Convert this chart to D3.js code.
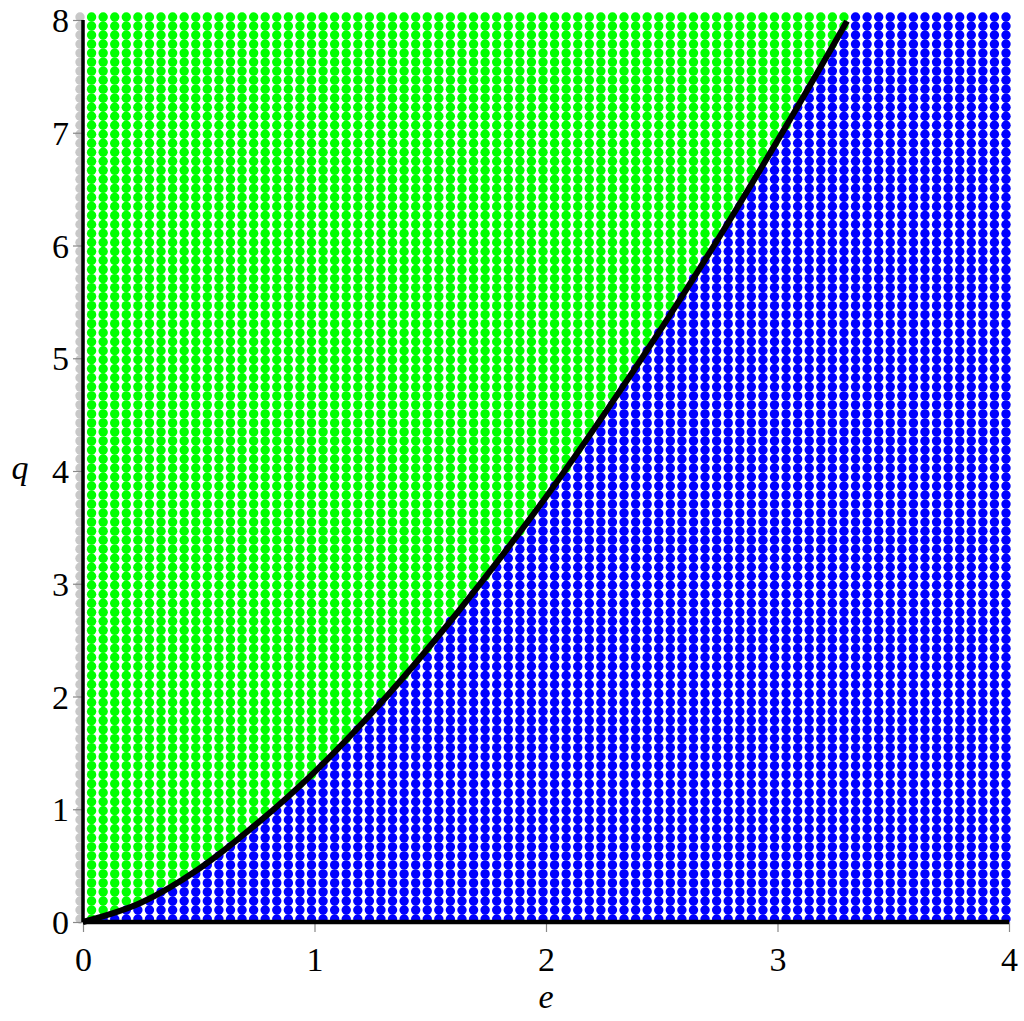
<!DOCTYPE html>
<html lang="en">
<head>
  <meta charset="utf-8" />
  <script src="https://d3js.org/d3.v7.min.js"></script>
  <style>
    body { margin: 0; background: #fff; }
  </style>
</head>
<body>
  <div id="divId"></div>
  <script>
    'use strict';
    const width = 1024;
    const height = 1021;
    const fontFamily = "'Liberation Serif', 'Times New Roman', serif";

    // axis ticks
    const eTicks = [0, 1, 2, 3, 4];
    const qTicks = [0, 1, 2, 3, 4, 5, 6, 7, 8];

    // sample grid (columns in e, rows in q)
    const eGridStep = 0.05;
    const qGridStep = 0.08;

    // boundary curve
    const curveE = [0, 0.25, 0.5, 0.75, 1, 1.25, 1.5, 1.75, 2, 2.25, 2.5, 2.75, 3, 3.25, 3.3];
    const curveQ = [0, 0.17, 0.47, 0.87, 1.33, 1.86, 2.45, 3.09, 3.77, 4.5, 5.27, 6.08, 6.93, 7.81, 7.99];

    const colors = {
      above: "#00ff00",
      below: "#0000ff",
      edge: "#c8c8c8"
    };

    const x = d3.scaleLinear().domain([0, 4]).range([83, 1009]);
    const y = d3.scaleLinear().domain([0, 8]).range([922, 20]);
    const dotShift = -3; // points sit a little up/left of their grid spot
    const dotR = 4.7;

    const svg = d3.select("#divId")
      .append("svg")
      .attr("width", width)
      .attr("height", height);

    // grid of sample points, coloured by where they show against the curve
    const boundary = d3.scaleLinear().domain(curveE).range(curveQ);
    const nCols = Math.round(4 / eGridStep);
    const nRows = Math.round(8 / qGridStep);
    const points = [];
    for (let i = 0; i <= nCols; i++) {
      const e = i * eGridStep;
      for (let j = 0; j <= nRows; j++) {
        const q = j * qGridStep;
        const eShown = x.invert(x(e) + dotShift);
        const qShown = y.invert(y(q) + dotShift);
        let c;
        if (i === 0) c = colors.edge;
        else if (eShown > 3.3 || qShown <= boundary(eShown)) c = colors.below;
        else c = colors.above;
        points.push({ e, q, c });
      }
    }

    svg.append("g")
      .selectAll("circle")
      .data(points)
      .join("circle")
      .attr("cx", d => x(d.e) + dotShift)
      .attr("cy", d => y(d.q) + dotShift)
      .attr("r", dotR)
      .attr("fill", d => d.c);

    // axes (grey ticks, no domain)
    const xAxis = svg.append("g")
      .attr("transform", `translate(0, ${y(0)})`)
      .call(d3.axisBottom(x).tickValues(eTicks).tickSize(10).tickFormat(d3.format("d")));
    const yAxis = svg.append("g")
      .attr("transform", `translate(${x(0)}, 0)`)
      .call(d3.axisLeft(y).tickValues(qTicks).tickSize(10).tickFormat(d3.format("d")));

    [xAxis, yAxis].forEach(a => {
      a.select(".domain").remove();
      a.selectAll(".tick line").attr("stroke", "#888").attr("stroke-width", 1.2);
      a.selectAll(".tick text")
        .attr("fill", "#000")
        .style("font-family", fontFamily)
        .style("font-size", "34px");
    });
    xAxis.selectAll(".tick text").attr("y", 0).attr("dy", "49px");
    yAxis.selectAll(".tick text").attr("x", -14).attr("dy", "0.34em");

    // boundary lines along e = 0 and q = 0
    svg.append("line")
      .attr("x1", x(0)).attr("x2", x(4))
      .attr("y1", y(0)).attr("y2", y(0))
      .attr("stroke", "#000").attr("stroke-width", 4.5);
    svg.append("line")
      .attr("x1", x(0)).attr("x2", x(0))
      .attr("y1", y(0)).attr("y2", y(8))
      .attr("stroke", "#000").attr("stroke-width", 3.5);

    // the curve
    const line = d3.line()
      .x((d, i) => x(curveE[i]))
      .y(d => y(d))
      .curve(d3.curveMonotoneX);
    svg.append("path")
      .datum(curveQ)
      .attr("d", line)
      .attr("fill", "none")
      .attr("stroke", "#000")
      .attr("stroke-width", 6)
      .attr("stroke-linecap", "butt");

    // axis titles
    svg.append("text")
      .attr("x", x(2))
      .attr("y", 1008)
      .attr("text-anchor", "middle")
      .style("font-family", fontFamily)
      .style("font-style", "italic")
      .style("font-size", "34px")
      .text("e");
    svg.append("text")
      .attr("x", 20)
      .attr("y", y(4) + 8)
      .attr("text-anchor", "middle")
      .style("font-family", fontFamily)
      .style("font-style", "italic")
      .style("font-size", "34px")
      .text("q");
  </script>
</body>
</html>
